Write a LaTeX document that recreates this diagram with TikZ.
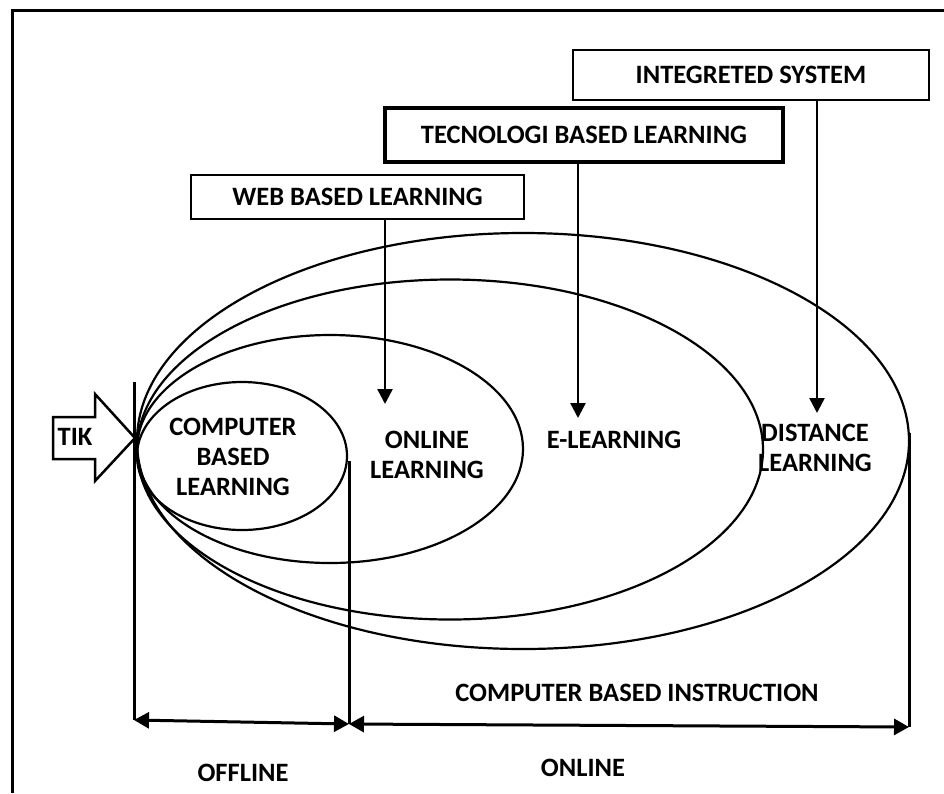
\documentclass[tikz,border=0pt]{standalone}
\usepackage{fontspec}
\setmainfont{Carlito}
\usetikzlibrary{arrows.meta}
\begin{document}
\begin{tikzpicture}[x=1pt,y=-1pt,
  lbl/.style={font=\bfseries\fontsize{26.5}{30}\selectfont, align=center, inner sep=0pt},
  ell/.style={line width=2.2pt},
  tbox/.style={draw, line width=2.2pt, inner sep=0pt, font=\bfseries\fontsize{26.5}{30}\selectfont},
  vline/.style={line width=3pt},
  downarr/.style={line width=2.5pt, -{Triangle[length=15pt,width=15pt]}},
  dimarr/.style={line width=3pt, {Triangle[length=15pt,width=16pt]}-{Triangle[length=15pt,width=16pt]}},
  frame/.style={line width=3pt}]
\useasboundingbox (0,0) rectangle (944,793);
% frame
\draw[frame] (12,793) -- (12,10) -- (944,10);
% ellipses
\draw[ell] (523,441) ellipse [x radius=386pt, y radius=208pt];
\draw[ell] (450,449.5) ellipse [x radius=313pt, y radius=170pt];
\draw[ell] (330,449) ellipse [x radius=193pt, y radius=114pt];
\draw[ell] (242,456) ellipse [x radius=105pt, y radius=74pt];
% TIK block arrow
\draw[line width=2.5pt, fill=white] (53,417) -- (95,417) -- (95,394) -- (135,438) -- (95,481) -- (95,459) -- (53,459) -- cycle;
\node[lbl] (tik) at (75,437) {TIK};
% vertical lines
\coordinate (v1t) at (134,382); \coordinate (v1b) at (134,720);
\coordinate (v2t) at (349,461); \coordinate (v2b) at (349,724);
\coordinate (v3t) at (909,433); \coordinate (v3b) at (909,727);
\draw[vline] (v1t) -- (v1b);
\draw[vline] (v2t) -- (v2b);
\draw[vline] (v3t) -- (v3b);
% dimension arrows
\draw[dimarr] (v1b) -- (v2b);
\draw[dimarr] (v2b) -- (v3b);
% boxes
\node[tbox, minimum width=333pt, minimum height=44pt] (web) at (357.5,197) {WEB BASED LEARNING};
\node[tbox, line width=4pt, minimum width=398pt, minimum height=54pt] (tech) at (584,135) {TECNOLOGI BASED LEARNING};
\node[tbox, minimum width=356pt, minimum height=50pt] (integ) at (751,75) {INTEGRETED SYSTEM};
% down arrows
\coordinate (wtip) at (385,404);
\coordinate (ttip) at (578,418);
\coordinate (itip) at (817,413);
\draw[downarr] (web.south -| wtip) -- (wtip);
\draw[downarr] (tech.south -| ttip) -- (ttip);
\draw[downarr] (integ.south -| itip) -- (itip);
% labels
\node[lbl] (cbl) at (233,457) {COMPUTER\\BASED\\LEARNING};
\node[lbl] (ol) at (427,455) {ONLINE\\LEARNING};
\node[lbl] (el) at (614,440) {E-LEARNING};
\node[lbl] (dl) at (815,448) {DISTANCE\\LEARNING};
\node[lbl] (cbi) at (637,693) {COMPUTER BASED INSTRUCTION};
\node[lbl] (off) at (243,773) {OFFLINE};
\node[lbl] (on) at (583,768) {ONLINE};
\end{tikzpicture}
\end{document}
